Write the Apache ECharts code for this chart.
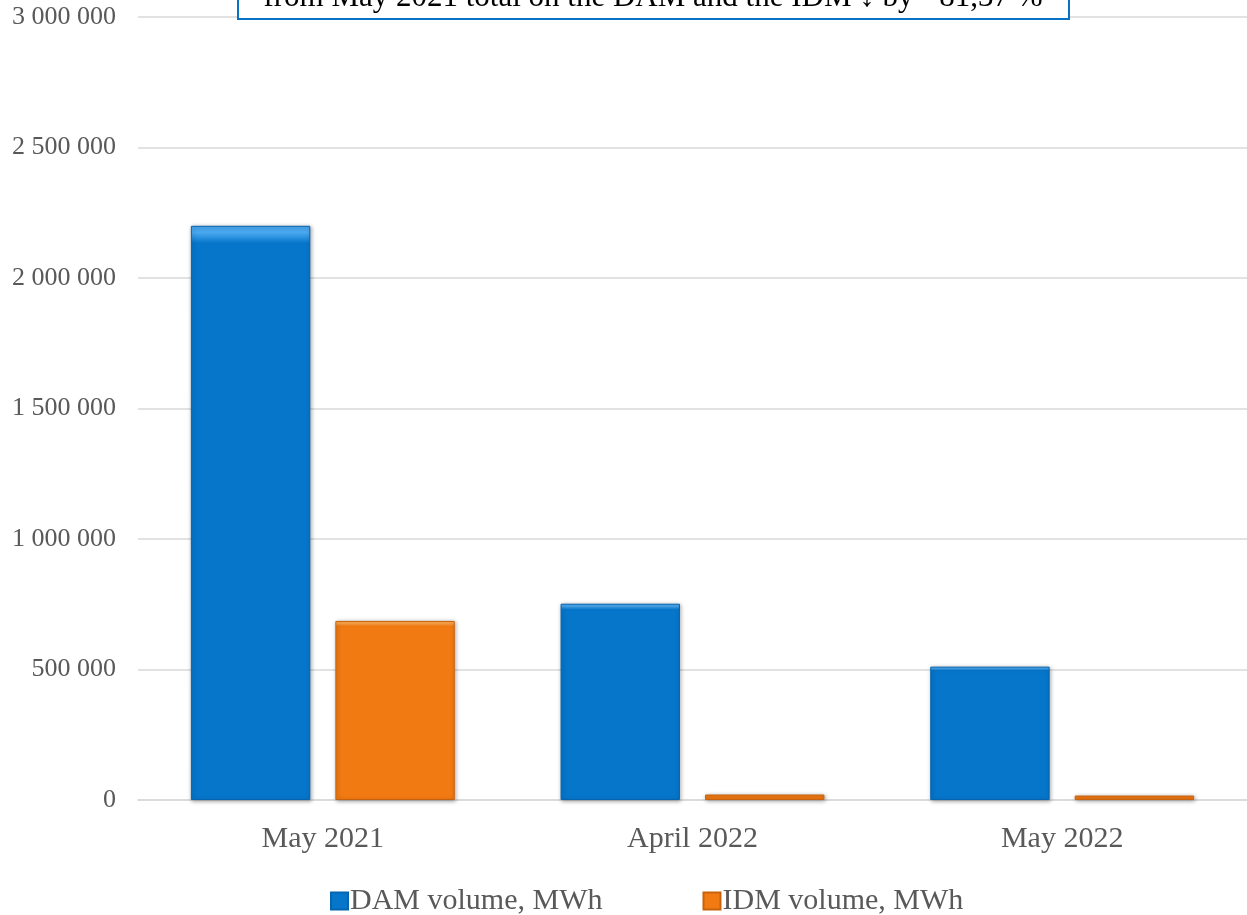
<!DOCTYPE html>
<html>
<head>
<meta charset="utf-8">
<script src="https://cdn.jsdelivr.net/npm/echarts@6/dist/echarts.min.js"></script>
<style>html,body{margin:0;padding:0;background:#fff;}#c{width:1247px;height:915px;}</style>
</head>
<body>
<div id="c"></div>
<script>
const categories = ['May 2021', 'April 2022', 'May 2022'];
const damVolume = [2200000, 752000, 511000];
const idmVolume = [686000, 21000, 17000];
const seriesNames = ['DAM volume, MWh', 'IDM volume, MWh'];
const noteText = 'from May 2021 total on the DAM and the IDM \u2193 by - 81,37 %';

const FONT = '"Liberation Serif","Times New Roman",serif';
const chart = echarts.init(document.getElementById('c'));

function barColor(light, mid) {
  return new echarts.graphic.LinearGradient(0, 0, 0, 1, [
    {offset: 0, color: light},
    {offset: 0.012, color: light},
    {offset: 0.03, color: mid},
    {offset: 1, color: mid}
  ]);
}

chart.setOption({
  animation: false,
  backgroundColor: '#fff',
  grid: {left: 138, top: 17, width: 1122, bottom: 115, containLabel: false},
  legend: {
    top: 881, left: 325,
    itemWidth: 17, itemHeight: 17, itemGap: 100,
    icon: 'rect',
    textStyle: {fontFamily: FONT, fontSize: 30, color: '#595959', padding: [0, 0, 0, -3]},
    data: seriesNames
  },
  xAxis: {
    type: 'category', data: categories,
    axisLine: {lineStyle: {color: '#d9d9d9', width: 1.5}},
    axisTick: {show: false},
    axisLabel: {fontFamily: FONT, fontSize: 30, color: '#595959', margin: 24}
  },
  yAxis: {
    type: 'value', min: 0, max: 3000000, interval: 500000,
    axisLine: {show: false}, axisTick: {show: false},
    splitLine: {lineStyle: {color: '#d9d9d9', width: 1.5}},
    axisLabel: {
      fontFamily: FONT, fontSize: 26, color: '#595959', margin: 22,
      formatter: v => String(v).replace(/\B(?=(\d{3})+(?!\d))/g, ' ')
    }
  },
  series: [
    {
      name: seriesNames[0], type: 'bar', data: damVolume,
      barWidth: '32.3%', barGap: '21%',
      itemStyle: {
        color: barColor('#4aa8f0', '#0676cb'),
        borderColor: '#0565b0', borderWidth: 1,
        shadowColor: 'rgba(0,0,0,0.35)', shadowBlur: 4, shadowOffsetX: 1, shadowOffsetY: 1
      }
    },
    {
      name: seriesNames[1], type: 'bar', data: idmVolume,
      barWidth: '32.3%', barGap: '21%',
      itemStyle: {
        color: barColor('#ffa94d', '#f27a12'),
        borderColor: '#c9620c', borderWidth: 1,
        shadowColor: 'rgba(0,0,0,0.35)', shadowBlur: 4, shadowOffsetX: 1, shadowOffsetY: 1
      }
    }
  ],
  graphic: [
    {
      type: 'rect', left: 237, top: -40, z: 100,
      shape: {width: 831, height: 58},
      style: {fill: '#fff', stroke: '#0a72c4', lineWidth: 2}
    },
    {
      type: 'text', z: 101, x: 653, y: -18,
      style: {
        text: noteText, fontFamily: FONT, fontSize: 31, fill: '#000',
        align: 'center', verticalAlign: 'top'
      }
    }
  ]
});
</script>
</body>
</html>
